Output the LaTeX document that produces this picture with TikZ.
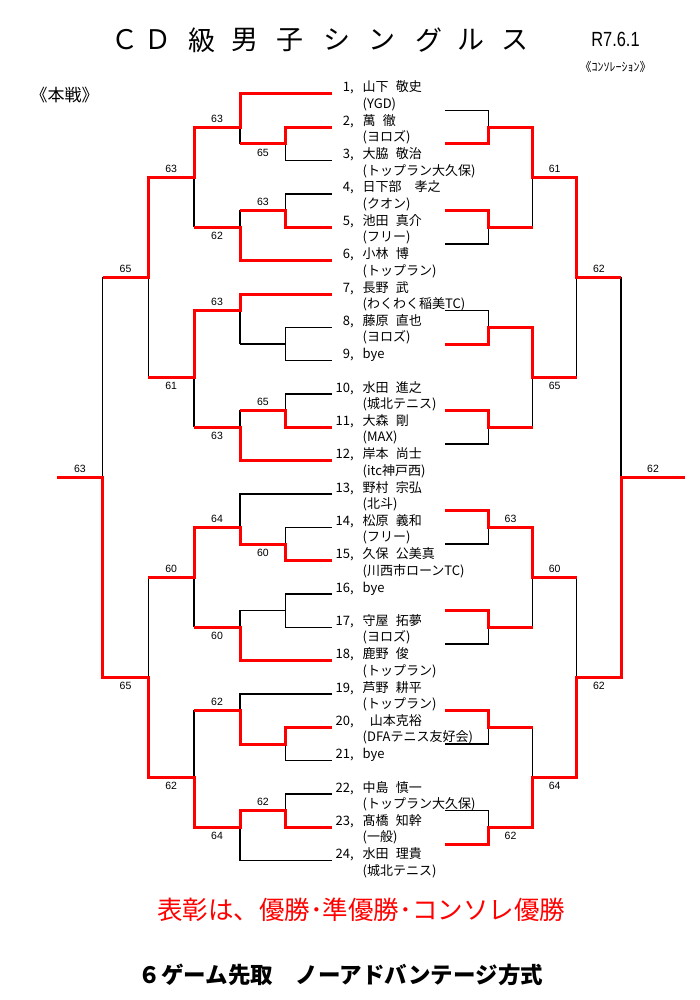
\documentclass[tikz,border=0pt]{standalone}
\usepackage{fontspec}
\setmainfont{Liberation Sans}
\newfontfamily\jp{Noto Sans CJK JP}[WordSpace=2.5]
\newfontfamily\rfont{Liberation Sans}[FakeStretch=0.8]
\usetikzlibrary{positioning}
\newcommand\namefont{\jp\fontsize{13}{16.5}\selectfont}
\newcommand\scorefont{\fontsize{10.5}{12}\selectfont}
\newcommand\titlefont{\jp\fontsize{27}{30}\selectfont}

\begin{document}
\begin{tikzpicture}[x=1pt, y=-1pt,
                    lose/.style={draw=black, line width=1.5pt},
                    win/.style={draw=red, line width=3pt},
                    score/.style={font=\scorefont, text=black, inner sep=0pt, midway},
                    scoreup/.style={score, yshift=8.5pt},
                    scoredn/.style={score, yshift=-9pt},
                    player/.style={anchor=base west, inner sep=0pt, font=\namefont},
                    head/.style={inner sep=0pt}
                    ]
  \path[use as bounding box, fill=white] (0,0) rectangle (700,1000);

  % title and headings
  \foreach \x/\c [count=\n] in {125/Ｃ,157.5/Ｄ,202/級,244.5/男,290/子,336.5/シ,381.5/ン,429/グ,470.5/ル,514.5/ス}
    \node[head, font=\titlefont] (t\n) at (\x,40) {\c};
  \node[head, font=\rfont\fontsize{20.5}{24}\selectfont] (date) at (615.5,39.5) {R7.6.1};
  \node[head, font=\jp\fontsize{12}{14}\selectfont] (kon) [below=14pt of date] {《ｺﾝｿﾚｰｼｮﾝ》};
  \node[head, font=\jp\fontsize{17}{20}\selectfont] (main) at (64.5,95.5) {《本戦》};

  \begin{scope}[yshift=-94pt, y=-16.6667pt]
  % players
  \foreach \i/\nm/\cl in {1/山下 敬史/(YGD), 2/萬 徹/(ヨロズ), 3/大脇 敬治/(トップラン大久保),
      4/日下部　孝之/(クオン), 5/池田 真介/(フリー), 6/小林 博/(トップラン),
      7/長野 武/(わくわく稲美TC), 8/藤原 直也/(ヨロズ), 9/bye/, 10/水田 進之/(城北テニス),
      11/大森 剛/(MAX), 12/岸本 尚士/(itc神戸西), 13/野村 宗弘/(北斗), 14/松原 義和/(フリー),
      15/久保 公美真/(川西市ローンTC), 16/bye/, 17/守屋 拓夢/(ヨロズ), 18/鹿野 俊/(トップラン),
      19/芦野 耕平/(トップラン), 20/~山本克裕/(DFAテニス友好会), 21/bye/,
      22/中島 慎一/(トップラン大久保), 23/髙橋 知幹/(一般), 24/水田 理貴/(城北テニス)}
    \node[player] (p\i) at (362.5,{2*(\i-1)-0.12})
      {\begin{tabular}[t]{@{}l@{}}\llap{\i,\hspace{9pt}}\nm\\\cl\end{tabular}};

  % main draw, black lines
  \foreach \o/\b in {0/2,12/1,24/2,36/1} {
    \draw[lose] (331.7,\o) -- (240,\o) -- (240,\o+3);
    \draw[lose] (331.7,\o+2) -| (285.7,\o+4) -- (331.7,\o+4);
    \draw[lose] (285.7,\o+3) -- (240,\o+3);
    \draw[lose] (240,\o+\b) -- (194,\o+\b) -- (194,\o+8);
    \draw[lose] (331.7,\o+6) -| (285.7,\o+8) -- (331.7,\o+8);
    \draw[lose] (285.7,\o+7) -- (240,\o+7) -- (240,\o+10) -- (331.7,\o+10);
    \draw[lose] (240,\o+8) -- (194,\o+8);
    \draw[lose] (194,\o+5) -- (148.3,\o+5);
  }
  \draw[lose] (148.3,5) -- (148.3,17);
  \draw[lose] (148.3,29) -- (148.3,41);
  \draw[lose] (148.3,11) -| (102.7,35) -- (148.3,35);
  \draw[lose] (102.7,23) -- (57,23);

  % consolation, black lines
  \foreach \o in {0,12,24,36} {
    \draw[lose] (445,\o+1) -| (488.3,\o+3) -- (445,\o+3);
    \draw[lose] (445,\o+7) -| (488.3,\o+9) -- (445,\o+9);
    \draw[lose] (488.3,\o+2) -- (532.7,\o+2) -- (532.7,\o+8) -- (488.3,\o+8);
    \draw[lose] (532.7,\o+5) -- (576.7,\o+5);
  }
  \draw[lose] (576.7,5) -- (576.7,17);
  \draw[lose] (576.7,29) -- (576.7,41);
  \draw[lose] (576.7,11) -| (621,35) -- (576.7,35);
  \draw[lose] (621,23) -- (685,23);

  % main draw, winners
  \draw[win] (331.7,0) -- (240,0) -- (240,2) -- (194,2) node[scoreup] (m2) {63}
             -- (194,5) -- (148.3,5) node[scoreup] (m5) {63} -- (148.3,11) -- (102.7,11) node[scoreup] (m10) {65};
  \draw[win] (331.7,2) -- (285.7,2) -- (285.7,3) -- (240,3) node[scoredn] (m1) {65};
  \draw[win] (331.7,8) -- (285.7,8) -- (285.7,7) -- (240,7) node[scoreup] (m3) {63};
  \draw[win] (331.7,10) -- (240,10) -- (240,8) -- (194,8) node[scoredn] (m4) {62};
  \draw[win] (331.7,12) -- (240,12) -- (240,13) -- (194,13) node[scoreup] (m6) {63}
             -- (194,17) -- (148.3,17) node[scoredn] (m9) {61};
  \draw[win] (331.7,20) -- (285.7,20) -- (285.7,19) -- (240,19) node[scoreup] (m7) {65};
  \draw[win] (331.7,22) -- (240,22) -- (240,20) -- (194,20) node[scoredn] (m8) {63};
  \draw[win] (331.7,28) -- (285.7,28) -- (285.7,27) -- (240,27) node[scoredn] (m11) {60}
             -- (240,26) -- (194,26) node[scoreup] (m12) {64} -- (194,29) -- (148.3,29) node[scoreup] (m14) {60};
  \draw[win] (331.7,34) -- (240,34) -- (240,32) -- (194,32) node[scoredn] (m13) {60};
  \draw[win] (331.7,38) -- (285.7,38) -- (285.7,39) -- (240,39) -- (240,37) -- (194,37) node[scoreup] (m15) {62};
  \draw[win] (331.7,44) -- (285.7,44) -- (285.7,43) -- (240,43) node[scoreup] (m16) {62}
             -- (240,44) -- (194,44) node[scoredn] (m17) {64} -- (194,41) -- (148.3,41) node[scoredn] (m18) {62}
             -- (148.3,35) -- (102.7,35) node[scoredn] (m19) {65} -- (102.7,23) -- (57,23) node[scoreup] (m20) {63};

  % consolation, winners
  \draw[win] (445,3) -- (488.3,3) -- (488.3,2) -- (532.7,2) -- (532.7,5) -- (576.7,5) node[scoreup] (c1) {61}
             -- (576.7,11) -- (621,11) node[scoreup] (c3) {62};
  \draw[win] (445,7) -- (488.3,7) -- (488.3,8) -- (532.7,8);
  \draw[win] (445,15) -- (488.3,15) -- (488.3,14) -- (532.7,14) -- (532.7,17) -- (576.7,17) node[scoredn] (c2) {65};
  \draw[win] (445,19) -- (488.3,19) -- (488.3,20) -- (532.7,20);
  \draw[win] (445,25) -- (488.3,25) -- (488.3,26) -- (532.7,26) node[scoreup] (c4) {63}
             -- (532.7,29) -- (576.7,29) node[scoreup] (c5) {60};
  \draw[win] (445,31) -- (488.3,31) -- (488.3,32) -- (532.7,32);
  \draw[win] (445,37) -- (488.3,37) -- (488.3,38) -- (532.7,38);
  \draw[win] (445,45) -- (488.3,45) -- (488.3,44) -- (532.7,44) node[scoredn] (c6) {62}
             -- (532.7,41) -- (576.7,41) node[scoredn] (c7) {64} -- (576.7,35) -- (621,35) node[scoredn] (c8) {62}
             -- (621,23) -- (685,23) node[scoreup] (c9) {62};
  \end{scope}

  % notes
  \node[head, text=red, font=\jp\fontsize{25.5}{28}\selectfont] (award) at (361,910) {表彰は、優勝･準優勝･コンソレ優勝};
  \node[head, font=\jp\bfseries\fontsize{22.5}{26}\selectfont] (rule) at (341,975) {６ゲーム先取　ノーアドバンテージ方式};
\end{tikzpicture}
\end{document}
